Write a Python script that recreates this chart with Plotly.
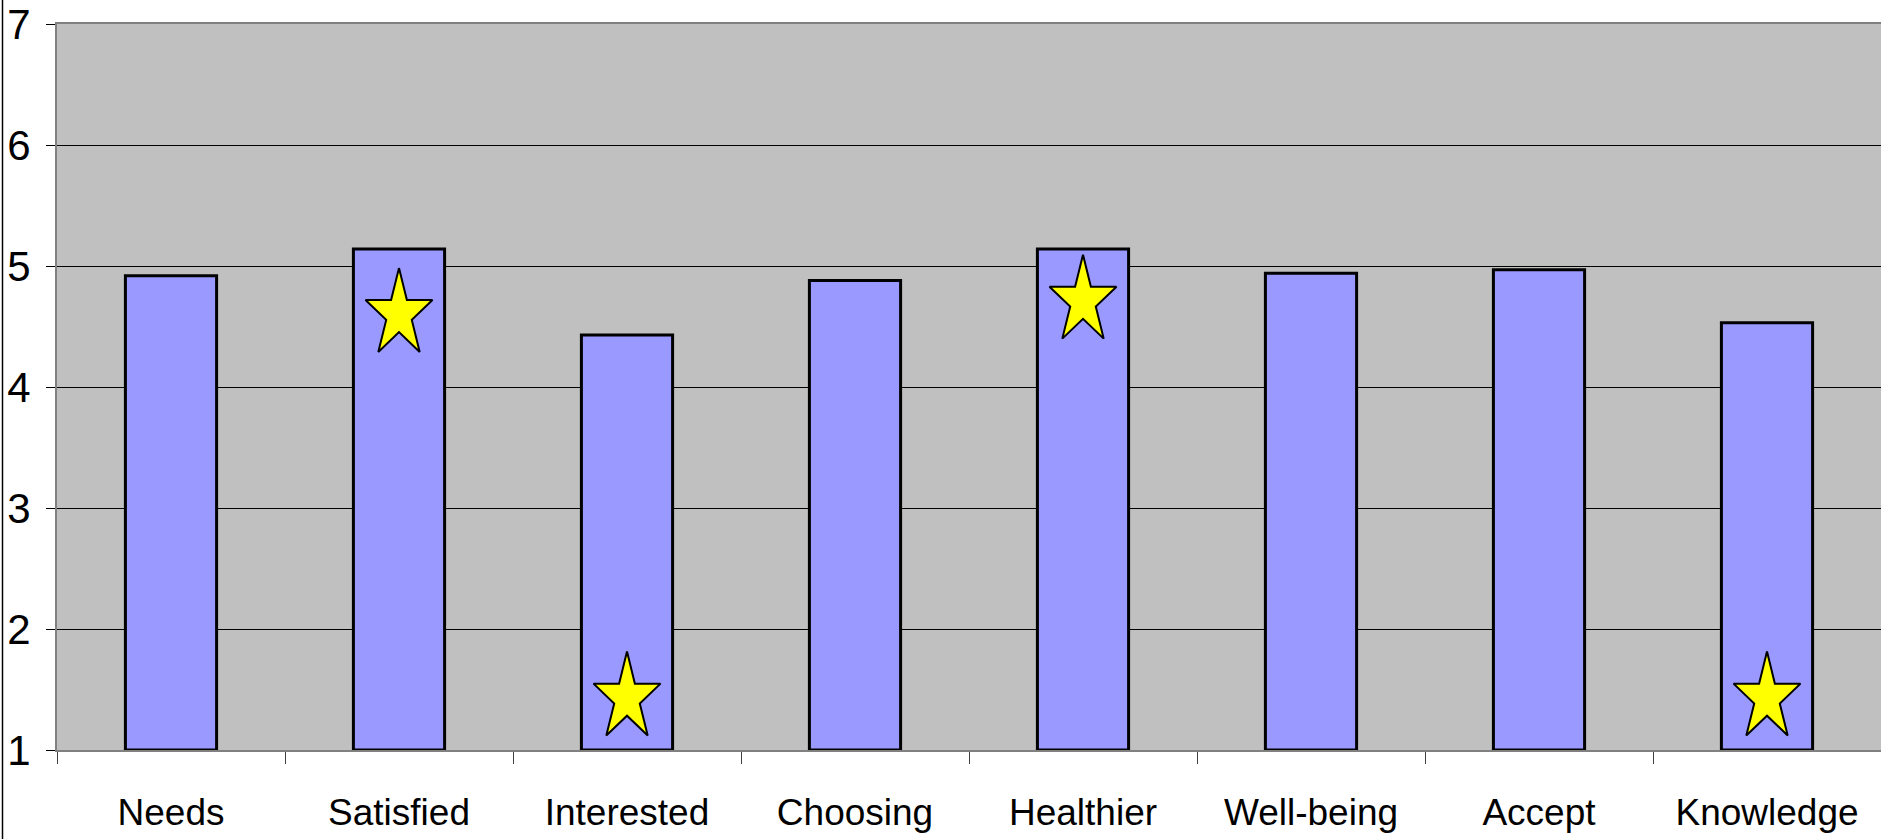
import numpy as np
import plotly.graph_objects as go

# Mean agreement score per statement
categories = ["Needs", "Satisfied", "Interested", "Choosing",
              "Healthier", "Well-being", "Accept", "Knowledge"]
scores = [4.92, 5.14, 4.43, 4.88, 5.14, 4.94, 4.97, 4.53]

# Statements flagged with a star, and the level the star sits at
star_categories = ["Satisfied", "Interested", "Healthier", "Knowledge"]
star_levels = [4.60, 1.43, 4.71, 1.43]

y_ticks = [1, 2, 3, 4, 5, 6, 7]

# Page / plot geometry
W, H = 1881, 839
ML, MR, MT, MB = 57, 0, 24, 89
y_min, y_max = y_ticks[0], y_ticks[-1]
plot_w = W - ML - MR
plot_h = H - MT - MB
px_per_x = plot_w / len(categories)
px_per_y = plot_h / (y_max - y_min)

x_pos = np.arange(len(categories))

fig = go.Figure()

fig.add_trace(go.Bar(
    x=x_pos,
    y=np.array(scores) - y_min,
    base=y_min,
    width=0.4,
    marker=dict(color="#9999FF", line=dict(color="black", width=3)),
    hoverinfo="skip",
    showlegend=False,
))

# Five-pointed stars drawn as filled polygons (outer radius in pixels)
star_rx, star_ry = 35.2, 46.4
angles = np.pi / 2 + np.arange(10) * np.pi / 5
radii = np.where(np.arange(10) % 2 == 0, 1.0, 0.382)
for name, level in zip(star_categories, star_levels):
    cx = categories.index(name)
    xs = cx + radii * np.cos(angles) * star_rx / px_per_x
    ys = level + radii * np.sin(angles) * star_ry / px_per_y
    fig.add_trace(go.Scatter(
        x=np.append(xs, xs[0]),
        y=np.append(ys, ys[0]),
        mode="lines",
        fill="toself",
        fillcolor="#FFFF00",
        line=dict(color="black", width=2),
        hoverinfo="skip",
        showlegend=False,
    ))

family = "Liberation Sans, Arial, sans-serif"
font = dict(family=family, size=37, color="black")

fig.update_layout(
    width=W, height=H,
    margin=dict(l=ML, r=MR, t=MT, b=MB, pad=0),
    paper_bgcolor="white",
    plot_bgcolor="#C0C0C0",
    font=font,
    xaxis=dict(
        range=[-0.5, len(categories) - 0.5],
        tickvals=x_pos,
        ticktext=categories,
        ticks="",
        ticklabelstandoff=29,
        showgrid=False,
        zeroline=False,
        automargin=False,
        showline=True, linecolor="#808080", linewidth=2, mirror=True,
        minor=dict(
            tickvals=np.arange(-0.5, len(categories), 1.0),
            ticks="outside", ticklen=12, tickwidth=1, tickcolor="#404040",
            showgrid=False,
        ),
        fixedrange=True,
    ),
    yaxis=dict(
        range=[y_min, y_max],
        tickvals=y_ticks,
        tickfont=dict(family=family, size=42, color="black"),
        ticks="outside", ticklen=9, tickwidth=1, tickcolor="black",
        ticklabelstandoff=7,
        showgrid=True, gridcolor="black", gridwidth=1,
        zeroline=False,
        automargin=False,
        showline=True, linecolor="#808080", linewidth=2,
        fixedrange=True,
    ),
    shapes=[dict(
        type="line", xref="paper", yref="paper",
        x0=(2.5 - ML) / plot_w, x1=(2.5 - ML) / plot_w,
        y0=-MB / plot_h, y1=(plot_h + MT) / plot_h,
        line=dict(color="black", width=1.5),
    )],
)

fig.write_html("out.html", config={"displayModeBar": False})
